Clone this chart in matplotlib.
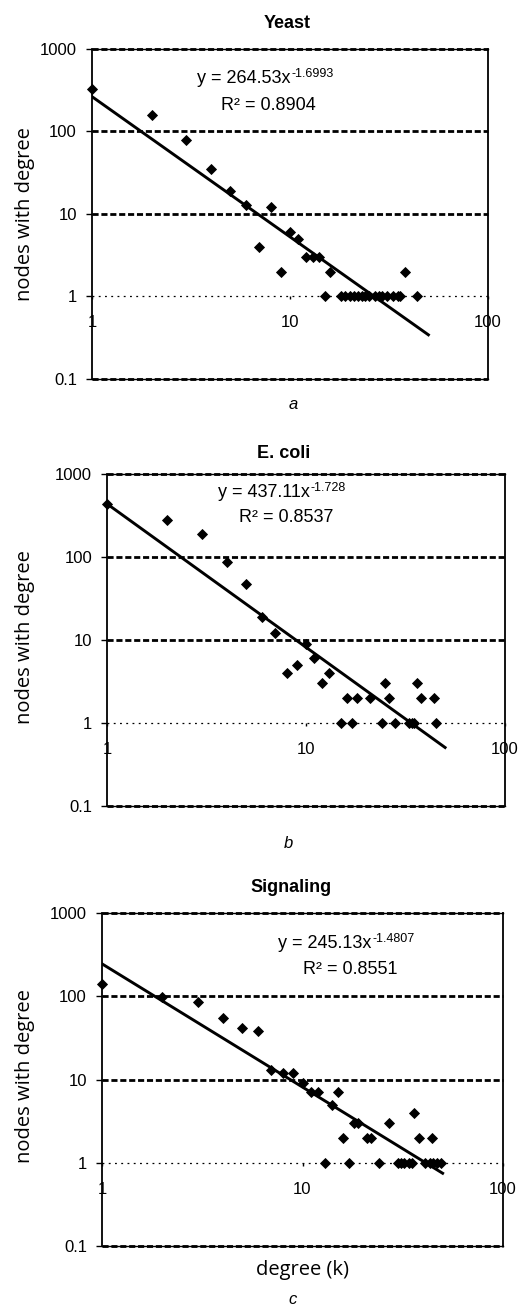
import matplotlib
matplotlib.use("Agg")
import matplotlib.pyplot as plt
from matplotlib.ticker import FixedLocator, FixedFormatter, NullLocator

plt.rcParams['font.family'] = ['Liberation Sans', 'DejaVu Sans']

W, H = 523, 1306

# -------------------- data --------------------
yeast_k = [1, 2, 3, 4, 5, 6, 7, 8, 9, 10, 11, 12, 13, 14, 15, 16, 18, 19, 20,
           21, 22, 23, 24, 25, 27, 28, 29, 31, 33, 35, 36, 38, 44]
yeast_n = [330, 160, 78, 35, 19, 13, 4, 12, 2, 6, 5, 3, 3, 3, 1, 2, 1, 1, 1,
           1, 1, 1, 1, 1, 1, 1, 1, 1, 1, 1, 1, 2, 1]

ecoli_k = [1, 2, 3, 4, 5, 6, 7, 8, 9, 10, 11, 12, 13, 15, 16, 17, 18, 21, 24,
           25, 26, 28, 33, 34, 35, 36, 38, 44, 45]
ecoli_n = [440, 280, 190, 88, 47, 19, 12, 4, 5, 9, 6, 3, 4, 1, 2, 1, 2, 2, 1,
           3, 2, 1, 1, 1, 1, 3, 2, 2, 1]

signal_k = [1, 2, 3, 4, 5, 6, 7, 8, 9, 10, 11, 12, 13, 14, 15, 16, 17, 18, 19,
            21, 22, 24, 27, 30, 31, 32, 34, 35, 36, 38, 41, 43, 44, 45, 47, 49]
signal_n = [140, 98, 85, 55, 42, 38, 13, 12, 12, 9, 7, 7, 1, 5, 7, 2, 1, 3, 3,
            2, 2, 1, 3, 1, 1, 1, 1, 1, 4, 2, 1, 1, 2, 1, 1, 1]

# power-law fits shown on the chart: (coefficient, exponent, r2, fit range)
yeast_fit = (264.53, -1.6993, 0.8904, [1, 50])
ecoli_fit = (437.11, -1.728, 0.8537, [1, 50])
signal_fit = (245.13, -1.4807, 0.8551, [1, 50])

titles = ['Yeast', 'E. coli', 'Signaling']
sublabels = ['a', 'b', 'c']
y_ticks = [0.1, 1, 10, 100, 1000]
y_ticklabels = ['0.1', '1', '10', '100', '1000']
x_ticks = [1, 10, 100]
x_ticklabels = ['1', '10', '100']

# -------------------- layout (pixels) --------------------
# axes box: left, top, right, bottom
boxes = [(92, 49, 488, 379), (107, 474, 505, 806), (102, 913, 503, 1246)]
title_pos = [(287, 24), (284, 453), (291, 888)]
sub_pos = [(293, 405), (288, 843), (293, 1299)]
eq_left = [(197, 83), (218, 497), (278, 948)]
r2_pos = [(268, 110), (286, 522), (350, 974)]
ylab_y = [214, 637, 1076]

data = [(yeast_k, yeast_n, yeast_fit), (ecoli_k, ecoli_n, ecoli_fit),
        (signal_k, signal_n, signal_fit)]

fig = plt.figure(figsize=(W / 100, H / 100), dpi=100)


def fx(x):
    return x / W


def fy(y):
    return 1 - y / H


for i, (k, n, fit) in enumerate(data):
    l, t, r, b = boxes[i]
    ax = fig.add_axes([fx(l), fy(b), (r - l) / W, (b - t) / H])
    ax.set_xscale('log')
    ax.set_yscale('log')
    ax.set_xlim(1, 100)
    ax.set_ylim(0.1, 1000)

    # gridlines
    for g in [0.1, 10, 100, 1000]:
        ax.axhline(g, color='k', lw=2, ls=(0, (2.2, 1)), clip_on=False, zorder=1)
    ax.axhline(1, color='k', lw=0.9, ls=(0, (1.5, 3.5)), zorder=1)
    ax.axhline(0.1, color='k', lw=1, clip_on=False, zorder=1)

    # data + trend line
    ax.plot(k, n, 'D', color='k', ms=5.0, mew=0.6, zorder=3, clip_on=False)
    a, p, r2, xr = fit
    ax.plot(xr, [a * x ** p for x in xr], color='k', lw=2.1, zorder=2)

    # axes styling
    for s in ['left', 'right']:
        ax.spines[s].set_linewidth(1.3)
    ax.spines['top'].set_linewidth(1)
    ax.spines['bottom'].set_position(('data', 1))
    ax.spines['bottom'].set_visible(False)

    ax.yaxis.set_major_locator(FixedLocator(y_ticks))
    ax.yaxis.set_major_formatter(FixedFormatter(y_ticklabels))
    ax.xaxis.set_major_locator(FixedLocator(x_ticks))
    ax.xaxis.set_major_formatter(FixedFormatter(x_ticklabels))
    ax.xaxis.set_minor_locator(NullLocator())
    ax.yaxis.set_minor_locator(NullLocator())
    ax.tick_params(axis='y', direction='out', length=4.3, width=1, pad=6.5,
                   labelsize=12)
    ax.tick_params(axis='x', direction='out', length=2.5, width=1, pad=11,
                   labelsize=12)

    # texts
    fig.text(fx(title_pos[i][0]), fy(title_pos[i][1]), titles[i],
             ha='center', va='center', fontsize=13, fontweight='bold')
    fig.text(fx(sub_pos[i][0]), fy(sub_pos[i][1]), sublabels[i],
             ha='center', va='center', fontsize=12, fontstyle='italic')
    main = fig.text(fx(eq_left[i][0]), fy(eq_left[i][1]),
                    'y = %gx' % a, ha='left', va='baseline', fontsize=13)
    ax.annotate('%g' % p, xy=(1, 1), xycoords=main, xytext=(0.5, 1.5),
                textcoords='offset points', ha='left', va='top', fontsize=9)
    fig.text(fx(r2_pos[i][0]), fy(r2_pos[i][1]), 'R\u00b2 = %.4f' % r2,
             ha='center', va='baseline', fontsize=13)
    fig.text(fx(25), fy(ylab_y[i]), 'nodes with degree', rotation=90,
             ha='center', va='center', fontsize=14.5, family='Open Sans')

fig.text(fx(303), fy(1270), 'degree (k)', ha='center', va='center',
         fontsize=14.5, family='Open Sans')

fig.savefig('out.png', dpi=100)
